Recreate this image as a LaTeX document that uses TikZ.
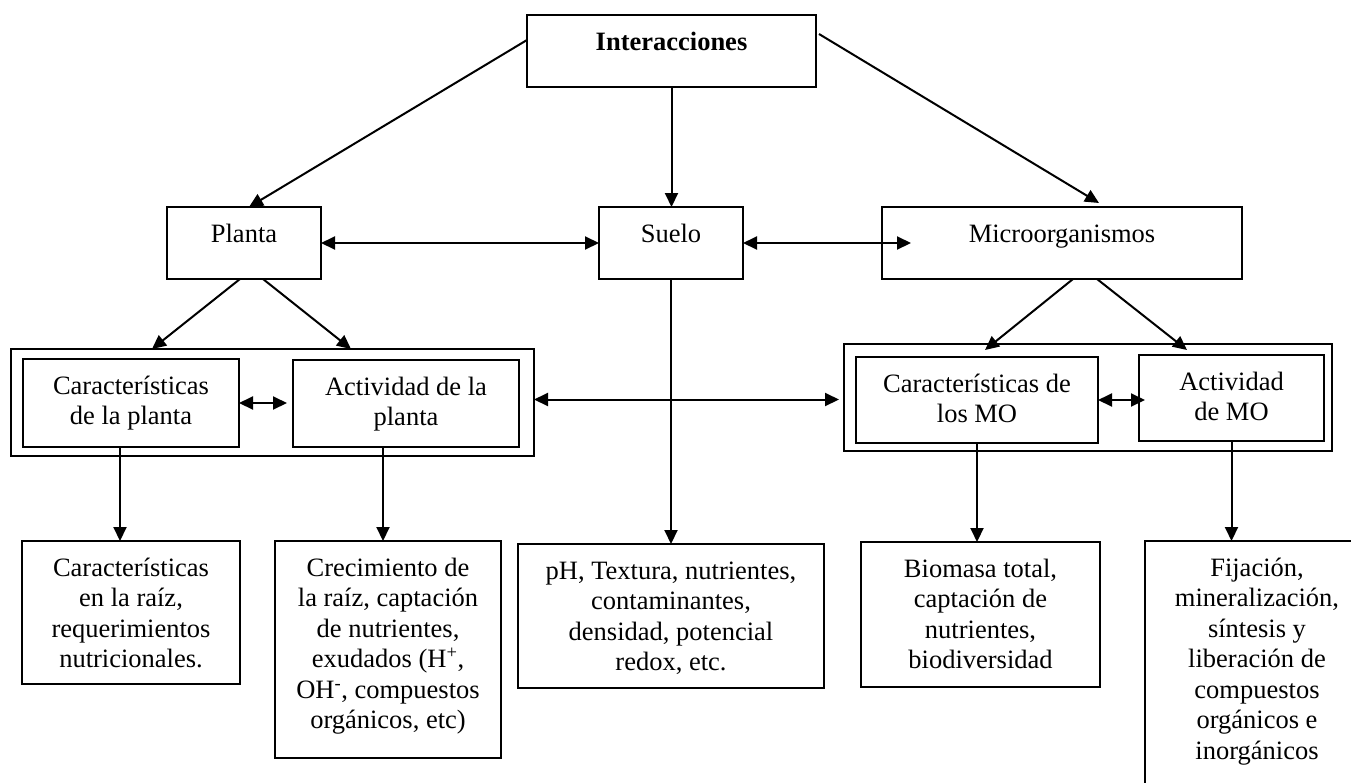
\documentclass[tikz,border=0pt]{standalone}
\usepackage{fontspec}
\setmainfont{Liberation Serif}
\usetikzlibrary{arrows.meta,calc}
\newcommand{\boxtext}[3]{\parbox[c][#2][t]{#1}{\centering\vspace*{14pt}\strut #3\par}}
\tikzset{
  bx/.style={draw, line width=2pt, inner sep=0pt, outer sep=0pt,
    font=\fontsize{26.5}{30.5}\selectfont},
  grp/.style={draw, line width=2pt, inner sep=0pt, outer sep=0pt},
  con/.style={line width=2pt, -{Triangle[length=14pt,width=13pt]}},
  dcon/.style={line width=2pt, {Triangle[length=14pt,width=13pt]}-{Triangle[length=14pt,width=13pt]}},
}
\begin{document}
\begin{tikzpicture}[x=1pt,y=-1pt]
\useasboundingbox (0,0) rectangle (1351,782);
\clip (0,0) rectangle (1351,782);
% top level
\node[bx] (I) at (671.5,51) {\boxtext{289pt}{72pt}{\textbf{Interacciones}}};
\node[bx] (P) at (244,243) {\boxtext{154pt}{72pt}{Planta}};
\node[bx] (S) at (671,243) {\boxtext{144pt}{72pt}{Suelo}};
\node[bx] (M) at (1062,243) {\boxtext{360pt}{72pt}{Microorganismos}};
% groups
\node[grp, minimum width=523pt, minimum height=107pt] (LO) at (272.5,402.5) {};
\node[grp, minimum width=488pt, minimum height=107pt] (RO) at (1088,397.5) {};
\node[bx] (CP) at (131,403) {\boxtext{216pt}{88pt}{Características\\de la planta}};
\node[bx] (AP) at (406,403.5) {\boxtext{226pt}{87pt}{Actividad de la\\planta}};
\node[bx] (CM) at (977,400) {\boxtext{242pt}{86pt}{Características de\\los MO}};
\node[bx] (AM) at (1231.5,398) {\boxtext{185pt}{86pt}{Actividad\\de MO}};
% bottom
\node[bx] (CR) at (131,612.5) {\boxtext{218pt}{143pt}{Características\\en la raíz,\\requerimientos\\nutricionales.}};
\node[bx] (CC) at (388,649.5) {\boxtext{226pt}{217pt}{Crecimiento de\\la raíz, captación\\de nutrientes,\\exudados (H\textsuperscript{+},\\OH\textsuperscript{-}, compuestos\\orgánicos, etc)}};
\node[bx] (PH) at (671,616) {\boxtext{306pt}{144pt}{pH, Textura, nutrientes,\\contaminantes,\\densidad, potencial\\redox, etc.}};
\node[bx] (BM) at (980.5,614.5) {\boxtext{239pt}{145pt}{Biomasa total,\\captación de\\nutrientes,\\biodiversidad}};
\node[bx] (FJ) at (1257,676) {\boxtext{224pt}{270pt}{Fijación,\\mineralización,\\síntesis y\\liberación de\\compuestos\\orgánicos e\\inorgánicos}};
% connectors
\draw[con] ([yshift=-25pt]I.north west) -- ([xshift=5pt]P.north);
\draw[con] ([yshift=-19pt,xshift=3pt]I.north east) -- ([xshift=37pt,yshift=4pt]M.north);
\draw[con] (I.south) -- (I.south |- S.north);
\draw[dcon] (P.east) -- (S.west);
\draw[dcon] (S.east) -- ([xshift=29pt]M.west);
\draw[con] ([xshift=-4pt]P.south) -- ([xshift=-120.5pt]LO.north);
\draw[con] ([xshift=19pt]P.south) -- ([xshift=78.5pt]LO.north);
\draw[con] ([xshift=11pt]M.south) -- ([xshift=-103pt,yshift=-6pt]RO.north);
\draw[con] ([xshift=35pt]M.south) -- ([xshift=99pt,yshift=-6pt]RO.north);
\draw[dcon] (CP.east) -- ($(AP.west |- CP.east)+(-6,0)$);
\draw[dcon] ($(LO.east)+(0,-3)$) -- ($(RO.west |- LO.east)+(-5,-3)$);
\draw[dcon] (CM.east) -- ($(AM.west |- CM.east)+(6,0)$);
\draw[con] (S.south) -- (S.south |- PH.north);
\draw[con] ($(CP.south)+(-11,0)$) -- ($(CP.south |- CR.north)+(-11,0)$);
\draw[con] ($(AP.south)+(-23,0)$) -- ($(AP.south |- CC.north)+(-23,0)$);
\draw[con] (CM.south) -- (CM.south |- BM.north);
\draw[con] (AM.south) -- (AM.south |- FJ.north);
\end{tikzpicture}
\end{document}
